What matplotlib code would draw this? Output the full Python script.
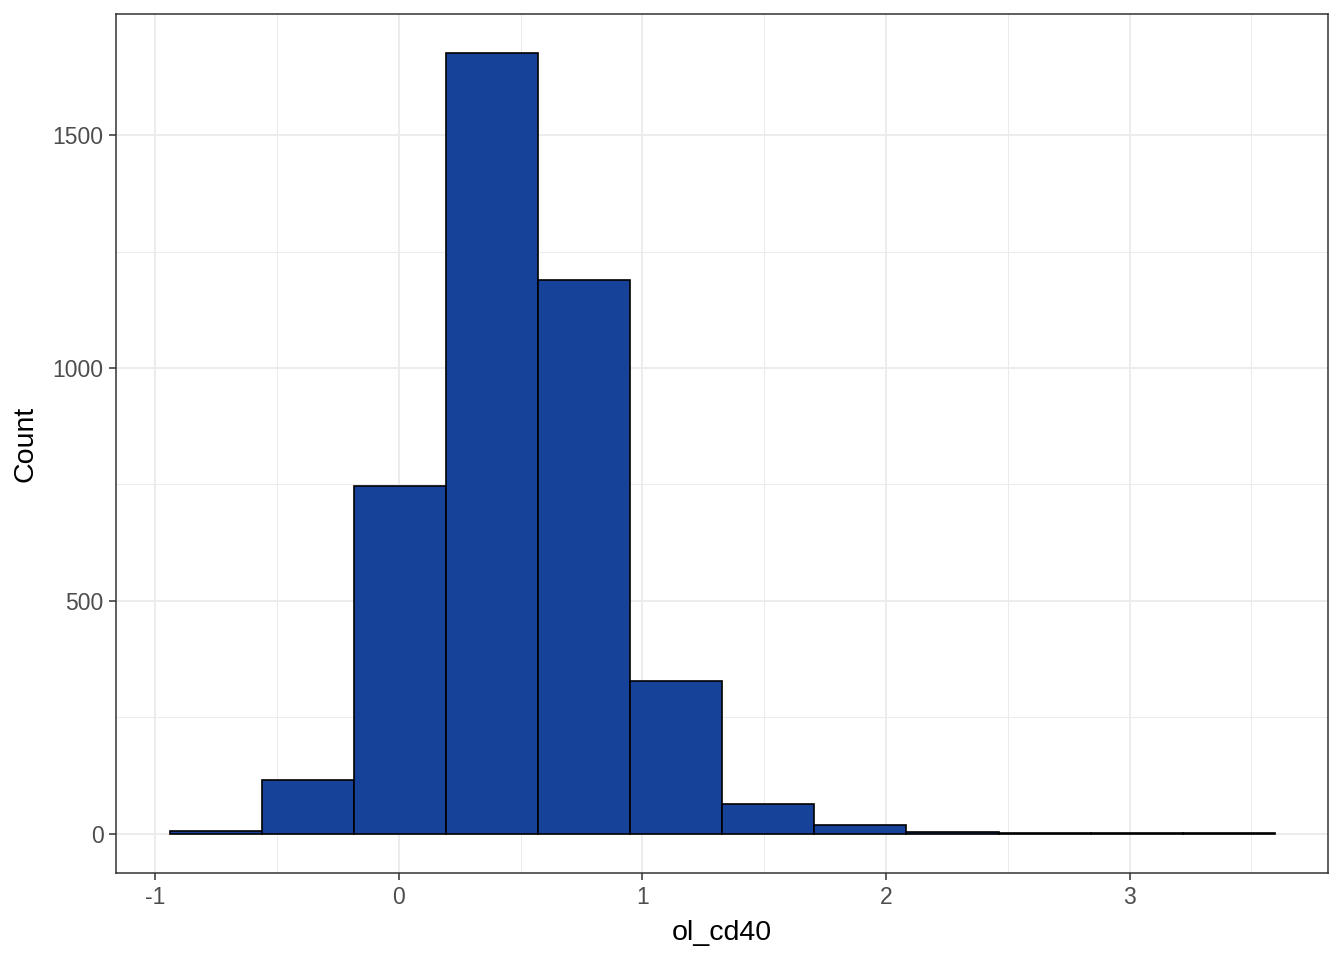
import numpy as np
import matplotlib.pyplot as plt

# histogram of ol_cd40, counts
bin_start = -0.94
bin_width = 0.378
counts = [6, 116, 747, 1676, 1189, 328, 64, 18, 5, 1, 1, 1]
x_ticks = [-1, 0, 1, 2, 3]
y_ticks = [0, 500, 1000, 1500]

plt.rcParams['font.family'] = ['Liberation Sans', 'DejaVu Sans']

fig = plt.figure(figsize=(13.44, 9.6), dpi=100)
ax = fig.add_axes([116 / 1344, 87 / 960, 1212 / 1344, 859 / 960])

edges = bin_start + bin_width * np.arange(len(counts) + 1)
ax.bar(edges[:-1], counts, width=bin_width, align="edge",
       color="#17429A", edgecolor="black", linewidth=1.2, zorder=3)

ax.set_xlim(-1.162, 3.815)
ax.set_ylim(-84, 1760)

ax.set_xticks(x_ticks)
ax.set_xticklabels([str(t) for t in x_ticks])
ax.set_yticks(y_ticks)
ax.set_xticks([-0.5, 0.5, 1.5, 2.5, 3.5], minor=True)
ax.set_yticks([250, 750, 1250], minor=True)

ax.grid(True, which="major", color="#EBEBEB", linewidth=1.3, zorder=0)
ax.grid(True, which="minor", color="#EBEBEB", linewidth=0.7, zorder=0)
ax.set_axisbelow(True)

ax.tick_params(which="major", length=5, width=1.1, color="#333333",
               labelcolor="#4D4D4D", labelsize=16.5, pad=4)
ax.tick_params(which="minor", length=0)
for s in ax.spines.values():
    s.set_color("#333333")
    s.set_linewidth(1.1)

ax.set_xlabel("ol_cd40", fontsize=20.5, labelpad=8)
ax.set_ylabel("Count", fontsize=20.5, labelpad=10)

fig.savefig("out.png", dpi=100)
